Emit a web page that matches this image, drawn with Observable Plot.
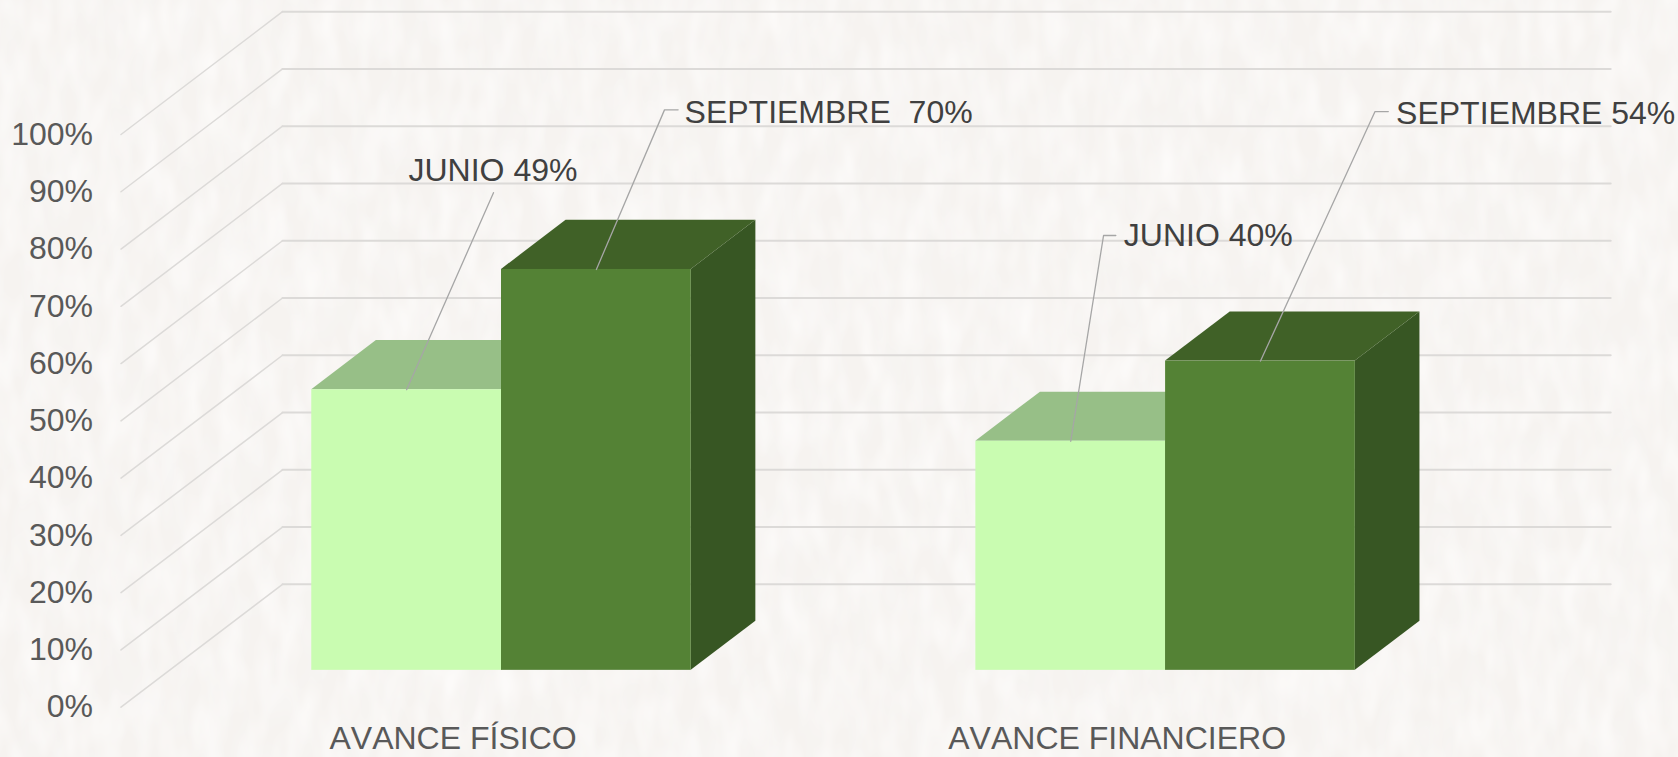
<!DOCTYPE html>
<html lang="es">
<head>
<meta charset="utf-8">
<script src="https://cdn.jsdelivr.net/npm/d3@7"></script>
<script src="https://cdn.jsdelivr.net/npm/@observablehq/plot@0.6"></script>
<style>
html,body{margin:0;padding:0;width:1678px;height:757px;overflow:hidden;background:#f6f3f0}
#paper{position:absolute;left:0;top:0;width:1678px;height:757px}
#chart{position:absolute;left:0;top:0;width:1678px;height:757px;overflow:hidden}
#chart svg{display:block;background:transparent}
#chart svg text{white-space:pre;font-kerning:none}
</style>
</head>
<body>
<svg id="paper" xmlns="http://www.w3.org/2000/svg" aria-hidden="true">
  <filter id="light" x="0" y="0" width="100%" height="100%">
    <feTurbulence type="fractalNoise" baseFrequency="0.05 0.02" numOctaves="2" seed="7"/>
    <feColorMatrix type="matrix" values="0 0 0 0 0.983  0 0 0 0 0.970  0 0 0 0 0.960  1.7 0 0 0 -0.65"/>
  </filter>
  <filter id="dark" x="0" y="0" width="100%" height="100%">
    <feTurbulence type="fractalNoise" baseFrequency="0.045 0.018" numOctaves="2" seed="23"/>
    <feColorMatrix type="matrix" values="0 0 0 0 0.935  0 0 0 0 0.925  0 0 0 0 0.915  1.6 0 0 0 -0.65"/>
  </filter>
  <rect width="100%" height="100%" fill="#f6f3f0"/>
  <rect width="100%" height="100%" filter="url(#dark)"/>
  <rect width="100%" height="100%" filter="url(#light)"/>
</svg>
<div id="chart"></div>
<script>
const categories = ["AVANCE FÍSICO", "AVANCE FINANCIERO"];
const seriesNames = ["JUNIO", "SEPTIEMBRE"];
const junio = [49, 40];
const septiembre = [70, 54];
const yTicks = [0, 10, 20, 30, 40, 50, 60, 70, 80, 90, 100];
const callouts = [
  {cat: 0, ser: 0, text: "JUNIO 49%", path: [[0.5609, 89.84]], at: [0.4329, 93.7]},
  {cat: 0, ser: 1, text: "SEPTIEMBRE  70%", path: [[0.8184, 104.3], [0.8389, 104.3]], at: [0.8486, 103.8]},
  {cat: 1, ser: 0, text: "JUNIO 40%", path: [[1.4795, 82.36], [1.498, 82.36]], at: [1.5101, 82.24]},
  {cat: 1, ser: 1, text: "SEPTIEMBRE 54%", path: [[1.8883, 104], [1.9083, 104]], at: [1.92, 103.6]}
];

// Oblique projection of the 3-D chart onto the plot's x/y scales
const depthX = 0.2432, depthY = 21.45;        // full depth of the box, in scale units
const w0 = 0.3, w1 = 0.7;                     // bars occupy the middle of the depth
const barW = 1 / 3.5;                         // two bars + gap width 150%
const gapW = 0.75 / 3.5;

const seriesValues = [junio, septiembre];
const faceColors = [
  {front: "#c9fcb1", top: "#97bf87", side: "#7ea86f"},
  {front: "#548235", top: "#406127", side: "#375623"}
];

const bars = seriesValues.flatMap((vals, s) => vals.map((v, c) => ({
  ser: s, cat: c, v, id: `${c}-${s}`,
  u0: c + gapW + s * barW,
  u1: c + gapW + (s + 1) * barW
})));

const gridWall = yTicks.flatMap(t => [
  {t, x: 0, y: t},
  {t, x: depthX, y: t + depthY},
  {t, x: 2 + depthX, y: t + depthY}
]);

const faceMarks = seriesNames.flatMap((_, s) => {
  const bs = bars.filter(b => b.ser === s);
  const side = bs.flatMap(b => [w0, w1].map(w => ({
    id: b.id, x: b.u1 + w * depthX, y1: w * depthY, y2: b.v + w * depthY
  })));
  const top = bs.flatMap(b => [w0, w1].map(w => ({
    id: b.id, y: b.v + w * depthY, x1: b.u0 + w * depthX, x2: b.u1 + w * depthX
  })));
  return [
    Plot.areaY(side, {x: "x", y1: "y1", y2: "y2", z: "id", fill: faceColors[s].side}),
    Plot.areaX(top, {y: "y", x1: "x1", x2: "x2", z: "id", fill: faceColors[s].top}),
    Plot.rect(bs, {
      x1: b => b.u0 + w0 * depthX, x2: b => b.u1 + w0 * depthX,
      y1: w0 * depthY, y2: b => b.v + w0 * depthY,
      fill: faceColors[s].front
    })
  ];
});

const leaderPts = callouts.flatMap((c, i) => {
  const v = seriesValues[c.ser][c.cat];
  const u = c.cat + gapW + (c.ser + 0.5) * barW + w0 * depthX;
  return [[u, v + w0 * depthY], ...c.path].map(([x, y]) => ({i, x, y}));
});

const chart = Plot.plot({
  width: 1678,
  height: 757,
  marginLeft: 120.5,
  marginRight: 229.3,
  marginTop: 134,
  marginBottom: 50.3,
  style: {background: "transparent"},
  x: {domain: [0, 2], axis: null},
  y: {domain: [0, 100], axis: null},
  marks: [
    Plot.line(gridWall.filter(d => d.x <= depthX), {x: "x", y: "y", z: "t", stroke: "#dcdad8", strokeWidth: 1.5}),
    Plot.line(gridWall.filter(d => d.x >= depthX), {x: "x", y: "y", z: "t", stroke: "#dcdad8", strokeWidth: 2}),
    ...faceMarks,
    Plot.line(leaderPts, {x: "x", y: "y", z: "i", stroke: "#a6a6a6", strokeWidth: 1.3}),
    Plot.text(callouts, {
      x: d => d.at[0], y: d => d.at[1], text: "text", textAnchor: "start",
      fontSize: 32, fontFamily: "Liberation Sans, Arial, sans-serif", fill: "#404040"
    }),
    Plot.axisY({
      ticks: yTicks, tickFormat: d => d + "%", tickSize: 0, tickPadding: 28, label: null,
      fontSize: 32, fontFamily: "Liberation Sans, Arial, sans-serif", fill: "#595959"
    }),
    Plot.axisX({
      ticks: [0.5, 1.5], tickFormat: d => categories[Math.floor(d)], tickSize: 0, tickPadding: 19, label: null,
      fontSize: 32, fontFamily: "Liberation Sans, Arial, sans-serif", fill: "#595959"
    })
  ]
});
document.getElementById("chart").appendChild(chart);
</script>
</body>
</html>
